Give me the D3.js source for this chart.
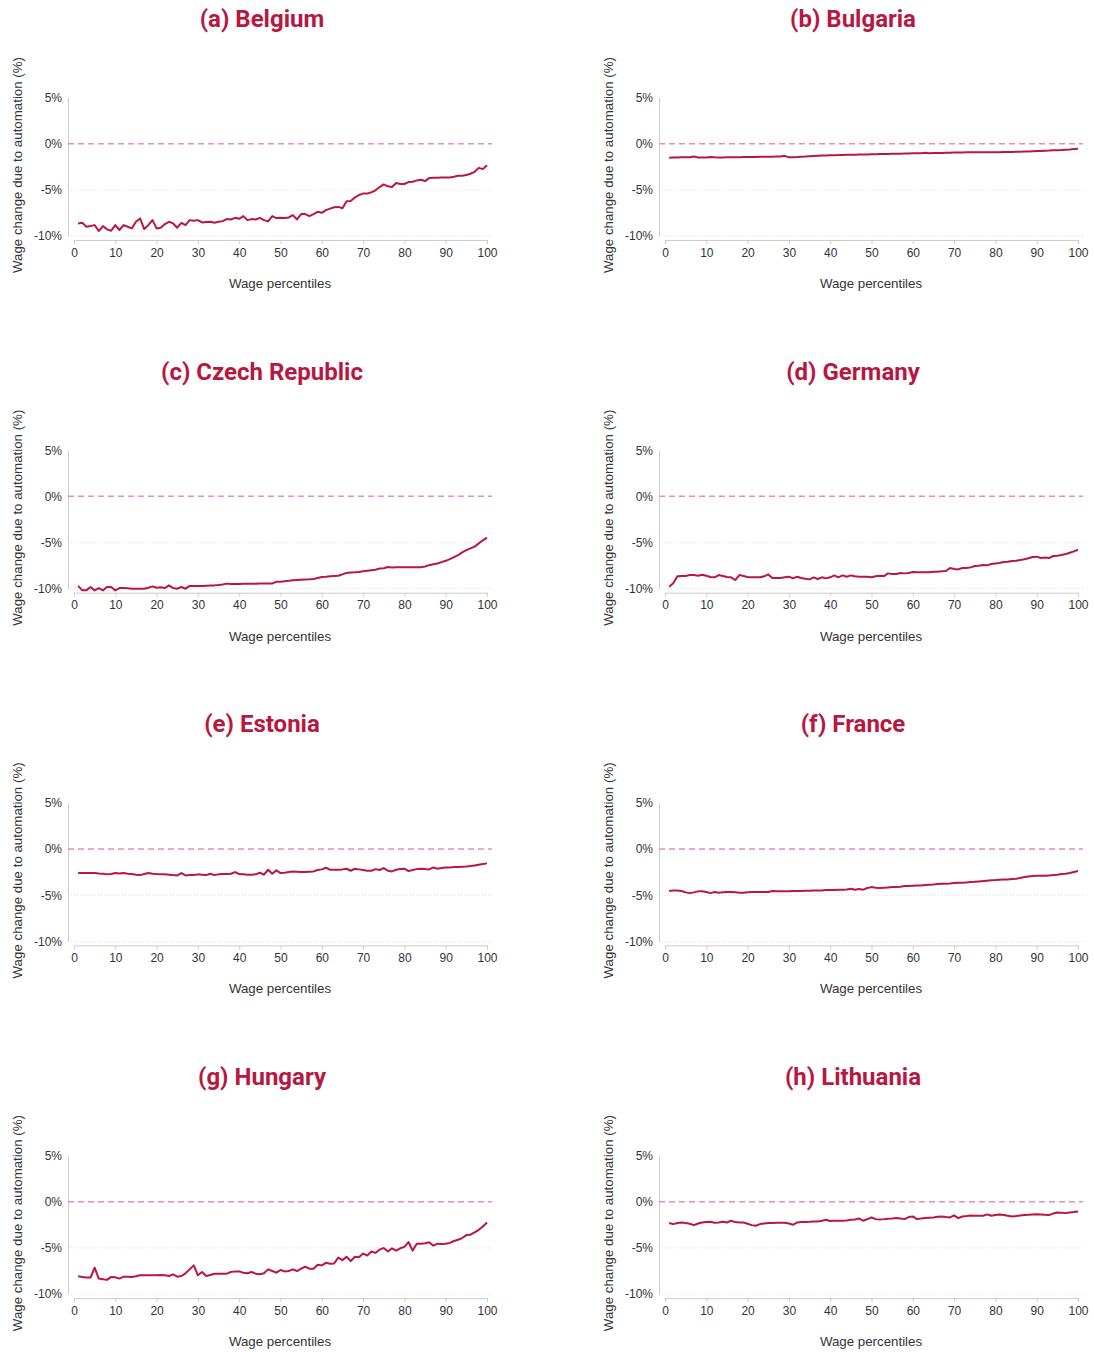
<!DOCTYPE html>
<html>
<head>
<meta charset="utf-8">
<script src="https://cdn.jsdelivr.net/npm/d3@7"></script>
<style>
  body { margin: 0; background: #fff; }
  svg { display: block; font-family: "Liberation Sans", Arial, sans-serif; }
  .tick text { fill: #333; font-size: 12px; font-family: "Liberation Sans", Arial, sans-serif; }
  .title { fill: #b8173f; font-size: 24px; font-weight: 700; font-family: Roboto, sans-serif; }
  .axis-title { fill: #333; font-size: 13.3px; }
</style>
</head>
<body>
<div id="chart"></div>
<script>
// percentiles 1..100 on the x axis
const percentiles = d3.range(1, 101);
const yTicks = [5, 0, -5, -10];
const xTicks = [0, 10, 20, 30, 40, 50, 60, 70, 80, 90, 100];

const titles = ['(a) Belgium', '(b) Bulgaria', '(c) Czech Republic', '(d) Germany',
  '(e) Estonia', '(f) France', '(g) Hungary', '(h) Lithuania'];

const belgium = [
  -8.64, -8.57, -9.0, -8.92, -8.82, -9.46, -8.92, -9.28, -9.43, -8.82,
  -9.35, -8.82, -9.0, -9.18, -8.46, -8.1, -9.25, -8.82, -8.28, -9.18,
  -9.1, -8.71, -8.46, -8.64, -9.1, -8.57, -8.82, -8.28, -8.35, -8.28,
  -8.53, -8.49, -8.46, -8.57, -8.46, -8.39, -8.17, -8.21, -8.03, -8.14,
  -7.85, -8.28, -8.17, -8.21, -8.03, -8.28, -8.42, -7.85, -8.06, -8.03,
  -8.06, -7.99, -7.74, -8.21, -7.63, -7.63, -7.85, -7.63, -7.38, -7.49,
  -7.2, -7.03, -6.88, -6.85, -6.99, -6.24, -6.2, -5.84, -5.56, -5.41,
  -5.41, -5.27, -5.05, -4.7, -4.41, -4.62, -4.7, -4.27, -4.37, -4.37,
  -4.16, -4.12, -3.98, -3.91, -4.05, -3.73, -3.69, -3.69, -3.66, -3.66,
  -3.66, -3.58, -3.48, -3.48, -3.4, -3.26, -3.05, -2.62, -2.76, -2.33
];

const bulgaria = [
  -1.52, -1.50, -1.49, -1.48, -1.47, -1.46, -1.40, -1.50, -1.51, -1.50,
  -1.45, -1.48, -1.50, -1.49, -1.48, -1.48, -1.47, -1.46, -1.45, -1.45,
  -1.44, -1.44, -1.43, -1.42, -1.42, -1.41, -1.40, -1.39, -1.32, -1.48,
  -1.46, -1.45, -1.42, -1.40, -1.36, -1.33, -1.31, -1.29, -1.27, -1.26,
  -1.25, -1.24, -1.22, -1.21, -1.20, -1.19, -1.18, -1.17, -1.16, -1.15,
  -1.14, -1.13, -1.12, -1.11, -1.10, -1.09, -1.08, -1.07, -1.06, -1.05,
  -1.05, -1.04, -0.98, -1.03, -1.02, -1.01, -1.00, -0.99, -0.98, -0.97,
  -0.96, -0.95, -0.94, -0.94, -0.94, -0.94, -0.94, -0.93, -0.93, -0.92,
  -0.92, -0.91, -0.91, -0.90, -0.88, -0.87, -0.86, -0.84, -0.82, -0.80,
  -0.79, -0.77, -0.75, -0.72, -0.70, -0.68, -0.65, -0.62, -0.58, -0.56
];

const czech = [
  -9.70, -10.18, -10.18, -9.82, -10.18, -9.93, -10.18, -9.82, -9.82, -10.18,
  -9.93, -9.93, -9.95, -10.0, -10.0, -10.0, -10.0, -9.9, -9.75, -9.9,
  -9.85, -9.93, -9.64, -9.93, -10.0, -9.82, -10.0, -9.7, -9.7, -9.72,
  -9.70, -9.68, -9.66, -9.64, -9.6, -9.55, -9.45, -9.5, -9.5, -9.48,
  -9.47, -9.47, -9.46, -9.46, -9.45, -9.45, -9.44, -9.45, -9.24, -9.25,
  -9.2, -9.15, -9.09, -9.05, -9.02, -9.0, -8.98, -8.95, -8.85, -8.73,
  -8.7, -8.66, -8.63, -8.6, -8.45, -8.29, -8.25, -8.22, -8.18, -8.1,
  -8.05, -8.0, -7.95, -7.82, -7.78, -7.65, -7.7, -7.68, -7.67, -7.67,
  -7.67, -7.67, -7.67, -7.67, -7.6, -7.45, -7.35, -7.27, -7.12, -6.98,
  -6.8, -6.58, -6.36, -6.07, -5.82, -5.64, -5.45, -5.09, -4.76, -4.47
];

const germany = [
  -9.78, -9.42, -8.66, -8.63, -8.63, -8.52, -8.52, -8.59, -8.48, -8.59,
  -8.74, -8.77, -8.52, -8.63, -8.74, -8.77, -9.06, -8.52, -8.63, -8.74,
  -8.77, -8.77, -8.77, -8.66, -8.45, -8.84, -8.84, -8.84, -8.77, -8.7,
  -8.88, -8.7, -8.84, -8.92, -8.99, -8.77, -8.95, -8.77, -8.88, -8.77,
  -8.56, -8.77, -8.56, -8.7, -8.56, -8.66, -8.7, -8.7, -8.7, -8.77,
  -8.66, -8.59, -8.63, -8.34, -8.41, -8.41, -8.3, -8.34, -8.3, -8.2,
  -8.23, -8.23, -8.23, -8.23, -8.16, -8.16, -8.12, -8.09, -7.76, -7.87,
  -7.91, -7.76, -7.76, -7.69, -7.55, -7.51, -7.44, -7.47, -7.33, -7.26,
  -7.22, -7.11, -7.08, -7.0, -6.97, -6.9, -6.82, -6.71, -6.57, -6.53,
  -6.68, -6.61, -6.68, -6.46, -6.43, -6.35, -6.25, -6.1, -5.96, -5.78
];

const estonia = [
  -2.6, -2.6, -2.6, -2.6, -2.6, -2.64, -2.67, -2.74, -2.71, -2.6,
  -2.64, -2.6, -2.67, -2.71, -2.78, -2.82, -2.71, -2.6, -2.67, -2.71,
  -2.74, -2.74, -2.78, -2.82, -2.85, -2.6, -2.85, -2.82, -2.82, -2.74,
  -2.78, -2.82, -2.67, -2.82, -2.74, -2.71, -2.71, -2.67, -2.49, -2.71,
  -2.74, -2.78, -2.78, -2.74, -2.56, -2.78, -2.24, -2.67, -2.31, -2.6,
  -2.56, -2.49, -2.42, -2.45, -2.49, -2.49, -2.45, -2.42, -2.27, -2.2,
  -2.02, -2.24, -2.24, -2.24, -2.2, -2.13, -2.35, -2.13, -2.2, -2.27,
  -2.35, -2.35, -2.17, -2.27, -2.06, -2.35, -2.42, -2.24, -2.17, -2.13,
  -2.38, -2.27, -2.17, -2.13, -2.17, -2.2, -1.99, -2.13, -2.06, -1.99,
  -1.99, -1.95, -1.95, -1.91, -1.88, -1.84, -1.77, -1.7, -1.62, -1.55
];

const france = [
  -4.55, -4.48, -4.48, -4.55, -4.69, -4.77, -4.69, -4.58, -4.58, -4.66,
  -4.77, -4.66, -4.73, -4.69, -4.66, -4.66, -4.69, -4.73, -4.73, -4.69,
  -4.66, -4.66, -4.66, -4.66, -4.66, -4.55, -4.58, -4.58, -4.58, -4.58,
  -4.55, -4.55, -4.55, -4.51, -4.51, -4.48, -4.48, -4.48, -4.44, -4.44,
  -4.44, -4.4, -4.4, -4.37, -4.3, -4.4, -4.33, -4.4, -4.22, -4.12,
  -4.19, -4.22, -4.19, -4.15, -4.12, -4.12, -4.08, -4.01, -4.01, -3.97,
  -3.94, -3.94, -3.9, -3.86, -3.83, -3.79, -3.75, -3.75, -3.72, -3.68,
  -3.65, -3.65, -3.61, -3.57, -3.54, -3.5, -3.47, -3.43, -3.39, -3.36,
  -3.32, -3.29, -3.29, -3.25, -3.21, -3.14, -3.03, -2.96, -2.92, -2.89,
  -2.89, -2.89, -2.85, -2.82, -2.78, -2.71, -2.67, -2.6, -2.49, -2.38
];

const hungary = [
  -8.07, -8.14, -8.21, -8.21, -7.14, -8.32, -8.39, -8.46, -8.14, -8.18,
  -8.32, -8.11, -8.11, -8.14, -8.07, -7.96, -7.96, -7.96, -7.96, -7.96,
  -7.93, -7.96, -8.04, -7.86, -8.11, -8.04, -7.75, -7.32, -6.89, -7.96,
  -7.61, -8.04, -7.93, -7.79, -7.79, -7.79, -7.79, -7.61, -7.54, -7.54,
  -7.68, -7.75, -7.61, -7.79, -7.86, -7.75, -7.32, -7.5, -7.68, -7.39,
  -7.54, -7.5, -7.32, -7.5, -7.25, -7.04, -7.25, -7.25, -6.82, -6.89,
  -6.61, -6.71, -6.68, -6.04, -6.32, -5.96, -6.43, -5.96, -6.0, -5.61,
  -5.82, -5.39, -5.54, -5.18, -5.0, -5.39, -5.04, -5.29, -5.04, -4.89,
  -4.36, -5.29, -4.54, -4.54, -4.5, -4.39, -4.75, -4.54, -4.57, -4.54,
  -4.46, -4.25, -4.11, -3.93, -3.61, -3.57, -3.32, -3.04, -2.68, -2.25
];

const lithuania = [
  -2.31, -2.42, -2.31, -2.24, -2.31, -2.38, -2.53, -2.35, -2.24, -2.2,
  -2.17, -2.27, -2.24, -2.17, -2.24, -2.06, -2.2, -2.24, -2.24, -2.38,
  -2.53, -2.6, -2.42, -2.35, -2.31, -2.31, -2.27, -2.27, -2.27, -2.35,
  -2.49, -2.24, -2.2, -2.2, -2.17, -2.13, -2.13, -2.06, -1.95, -2.09,
  -2.06, -2.06, -2.06, -2.02, -1.95, -1.91, -1.81, -2.06, -1.88, -1.7,
  -1.88, -1.91, -1.88, -1.84, -1.81, -1.77, -1.81, -1.88, -1.66, -1.59,
  -1.88, -1.81, -1.77, -1.73, -1.7, -1.62, -1.59, -1.66, -1.7, -1.48,
  -1.77, -1.59, -1.55, -1.48, -1.52, -1.52, -1.52, -1.37, -1.52, -1.44,
  -1.37, -1.44, -1.52, -1.59, -1.55, -1.48, -1.44, -1.41, -1.37, -1.34,
  -1.37, -1.41, -1.44, -1.26, -1.16, -1.19, -1.23, -1.16, -1.12, -1.05
];

const series = [belgium, bulgaria, czech, germany, estonia, france, hungary, lithuania];

const width = 1094;
const height = 1352;
const colStep = 591;
const rowStep = 352.7;

// panel-local geometry
const axisX = 68;
const plot = { left: 74, right: 487, top: 97.5, bottom: 236, gridRight: 492 };

const lineColor = '#b8173f';

const svg = d3.select('#chart')
  .append('svg')
  .attr('width', width)
  .attr('height', height);

const xScale = d3.scaleLinear().domain([0, 100]).range([plot.left, plot.right]);
const yScale = d3.scaleLinear().domain([-10, 5]).range([plot.bottom, plot.top]);

const line = d3.line()
  .x((d) => xScale(d.p))
  .y((d) => yScale(d.v));

titles.forEach((title, i) => {
  const col = i % 2;
  const row = Math.floor(i / 2);
  const g = svg.append('g')
    .attr('transform', `translate(${col * colStep}, ${row * rowStep})`);

  // title
  g.append('text')
    .attr('class', 'title')
    .attr('x', 262)
    .attr('y', 27)
    .attr('text-anchor', 'middle')
    .text(title);

  // dotted gridlines
  g.append('g')
    .selectAll('line')
    .data([-5, -10])
    .join('line')
    .attr('x1', axisX)
    .attr('x2', plot.gridRight)
    .attr('y1', (d) => yScale(d))
    .attr('y2', (d) => yScale(d))
    .attr('stroke', '#ddd')
    .attr('stroke-dasharray', '1,2');

  // y axis
  const yAxis = g.append('g')
    .attr('transform', `translate(${axisX}, 0)`)
    .call(d3.axisLeft(yScale).tickValues(yTicks).tickSize(0).tickPadding(6)
      .tickFormat((d) => d + '%'));
  yAxis.select('.domain').attr('stroke', '#ccc');
  yAxis.selectAll('.tick line').remove();

  // zero line
  g.append('line')
    .attr('x1', axisX)
    .attr('x2', plot.gridRight)
    .attr('y1', yScale(0))
    .attr('y2', yScale(0))
    .attr('stroke', '#e08fbf')
    .attr('stroke-width', 1.5)
    .attr('stroke-dasharray', '6,4');

  // x axis
  const xAxis = g.append('g')
    .attr('transform', `translate(0, ${plot.bottom + 4})`)
    .call(d3.axisBottom(xScale).tickValues(xTicks).tickSize(4).tickSizeOuter(0).tickPadding(4));
  xAxis.select('.domain').attr('stroke', '#ccc');
  xAxis.selectAll('.tick line').attr('stroke', '#ccc');

  // axis titles
  g.append('text')
    .attr('class', 'axis-title')
    .attr('x', 280)
    .attr('y', 288)
    .attr('text-anchor', 'middle')
    .text('Wage percentiles');

  g.append('text')
    .attr('class', 'axis-title')
    .attr('transform', 'translate(22, 165) rotate(-90)')
    .attr('text-anchor', 'middle')
    .text('Wage change due to automation (%)');

  // data line
  const pts = percentiles.map((p, j) => ({ p, v: series[i][j] }));
  g.append('path')
    .datum(pts)
    .attr('fill', 'none')
    .attr('stroke', lineColor)
    .attr('stroke-width', 2)
    .attr('stroke-linejoin', 'round')
    .attr('d', line);
});
</script>
</body>
</html>
